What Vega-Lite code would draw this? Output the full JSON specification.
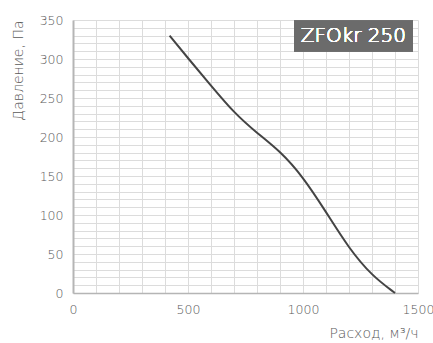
{
  "$schema": "https://vega.github.io/schema/vega-lite/v6.json",
  "width": 345,
  "height": 273,
  "autosize": {"type": "none"},
  "padding": {"left": 73, "top": 20, "right": 15, "bottom": 50},
  "background": "white",
  "config": {
    "view": {"stroke": null},
    "font": "DejaVu Sans",
    "axis": {
      "labelFont": "DejaVu Sans",
      "titleFont": "DejaVu Sans",
      "labelColor": "#5a5a5a",
      "titleColor": "#5a5a5a",
      "labelFontSize": 12.5,
      "titleFontSize": 14,
      "labelFontWeight": 300,
      "titleFontWeight": 300,
      "gridColor": "#dcdcdc",
      "gridWidth": 1,
      "gridOpacity": 1,
      "ticks": false,
      "labelOverlap": false,
      "labelPadding": 10,
      "domainColor": "#b5b5b5",
      "format": "d"
    },
    "axisX": {
      "titleAnchor": "end",
      "titleAlign": "right",
      "titlePadding": 11,
      "labelExpr": "datum.value % 500 === 0 ? datum.label : ''",
      "domainWidth": 1.5,
      "labelFlush": false
    },
    "axisY": {
      "titlePadding": 14,
      "titleAnchor": "end",
      "labelExpr": "datum.value % 50 === 0 ? datum.label : ''",
      "domainWidth": 2
    }
  },
  "data": {
    "values": [
      {"flow": 420, "pressure": 330},
      {"flow": 500, "pressure": 301},
      {"flow": 600, "pressure": 266},
      {"flow": 700, "pressure": 231},
      {"flow": 800, "pressure": 205},
      {"flow": 900, "pressure": 182},
      {"flow": 1000, "pressure": 149},
      {"flow": 1100, "pressure": 104},
      {"flow": 1200, "pressure": 57},
      {"flow": 1300, "pressure": 22},
      {"flow": 1400, "pressure": 0}
    ]
  },
  "layer": [
    {
      "mark": {"type": "line", "color": "#444444", "strokeWidth": 2, "interpolate": "basis"},
      "encoding": {
        "x": {
          "field": "flow",
          "type": "quantitative",
          "title": "Расход, м³/ч",
          "scale": {"domain": [0, 1500], "nice": false},
          "axis": {"values": [0, 100, 200, 300, 400, 500, 600, 700, 800, 900, 1000, 1100, 1200, 1300, 1400, 1500]}
        },
        "y": {
          "field": "pressure",
          "type": "quantitative",
          "title": "Давление, Па",
          "scale": {"domain": [0, 350], "nice": false},
          "axis": {"values": [0, 10, 20, 30, 40, 50, 60, 70, 80, 90, 100, 110, 120, 130, 140, 150, 160, 170, 180, 190, 200, 210, 220, 230, 240, 250, 260, 270, 280, 290, 300, 310, 320, 330, 340, 350]}
        }
      }
    },
    {
      "mark": {"type": "rect", "color": "#6b6b6b"},
      "encoding": {
        "x": {"datum": 961, "type": "quantitative", "title": "Расход, м³/ч",
          "axis": {"values": [0, 100, 200, 300, 400, 500, 600, 700, 800, 900, 1000, 1100, 1200, 1300, 1400, 1500]}},
        "x2": {"datum": 1478},
        "y": {"datum": 310, "type": "quantitative", "title": "Давление, Па",
          "axis": {"values": [0, 10, 20, 30, 40, 50, 60, 70, 80, 90, 100, 110, 120, 130, 140, 150, 160, 170, 180, 190, 200, 210, 220, 230, 240, 250, 260, 270, 280, 290, 300, 310, 320, 330, 340, 350]}},
        "y2": {"datum": 349}
      }
    },
    {
      "mark": {"type": "text", "color": "white", "fontSize": 20, "font": "DejaVu Sans", "fontWeight": 300, "align": "center", "baseline": "middle"},
      "encoding": {
        "x": {"datum": 1219, "type": "quantitative", "title": "Расход, м³/ч",
          "axis": {"values": [0, 100, 200, 300, 400, 500, 600, 700, 800, 900, 1000, 1100, 1200, 1300, 1400, 1500]}},
        "y": {"datum": 329.5, "type": "quantitative", "title": "Давление, Па",
          "axis": {"values": [0, 10, 20, 30, 40, 50, 60, 70, 80, 90, 100, 110, 120, 130, 140, 150, 160, 170, 180, 190, 200, 210, 220, 230, 240, 250, 260, 270, 280, 290, 300, 310, 320, 330, 340, 350]}},
        "text": {"value": "ZFOkr 250"}
      }
    }
  ]
}
